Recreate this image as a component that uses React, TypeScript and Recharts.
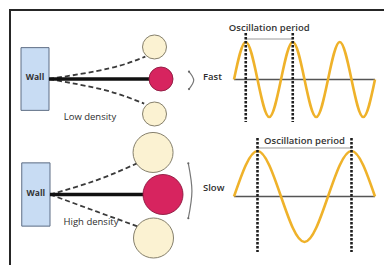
import React from "react";
import {
  ComposedChart,
  LineChart,
  Line,
  Scatter,
  XAxis,
  YAxis,
  ReferenceLine,
  ReferenceArea,
} from "recharts";

// Oscillations, sampled every quarter period (peak / zero / trough)
const fastSteps = [0, 1, 2, 3, 4, 5, 6, 7, 8, 9, 10, 11, 12];
const fastWave = [0, 1, 0, -1, 0, 1, 0, -1, 0, 1, 0, -1, 0];
const slowSteps = [0, 1, 2, 3, 4, 5, 6];
const slowWave = [0, 1, 0, -1, 0, 1, 0];
const periodMarks = [1, 5]; // the two peaks marked with dotted lines

// Pendulums, in units of the rod length (wall face at x = 0)
const lowBalls = [
  { x: 0.942, y: 0.286, kind: "swing" },
  { x: 1, y: 0, kind: "mass" },
  { x: 0.942, y: -0.3125, kind: "swing" },
];
const lowUpperArm = [
  { x: 0, y: 0 },
  { x: 0.54, y: 0.095 },
  { x: 0.86, y: 0.2 },
];
const lowLowerArm = [
  { x: 0, y: 0 },
  { x: 0.5, y: -0.1 },
  { x: 0.85, y: -0.22 },
];
const lowBracket = [
  { x: 1.25, y: 0.065 },
  { x: 1.292, y: -0.012 },
  { x: 1.25, y: -0.09 },
];

const highBalls = [
  { x: 0.912, y: 0.372, kind: "swing" },
  { x: 1, y: 0, kind: "mass" },
  { x: 0.916, y: -0.385, kind: "swing" },
];
const highUpperArm = [
  { x: 0, y: 0 },
  { x: 0.416, y: 0.128 },
  { x: 0.78, y: 0.28 },
];
const highLowerArm = [
  { x: 0, y: 0 },
  { x: 0.416, y: -0.152 },
  { x: 0.78, y: -0.285 },
];
const highBracket = [
  { x: 1.224, y: 0.276 },
  { x: 1.256, y: 0.03 },
  { x: 1.224, y: -0.21 },
];

const rod = [
  { x: 0, y: 0 },
  { x: 1, y: 0 },
];

const WAVE = "#efb22a";
const PINK = "#d7245f";
const CREAM = "#fbf2d2";
const INK = "#2e2e2e";

// small dots only at the two ends of the bracket
const endDot = (p: any) =>
  p.index === 1 ? <g key={p.index} /> : <circle key={p.index} cx={p.cx} cy={p.cy} r={1.1} fill="#666" />;

function Pendulum({ top, height, originX, originY, scale, ballR, balls, upperArm, lowerArm, bracket }: any) {
  const width = 230;
  const xDomain = [-originX / scale, (width - originX) / scale];
  const yDomain = [-(height - originY) / scale, originY / scale];
  const ball = (p: any) => (
    <circle
      cx={p.cx}
      cy={p.cy}
      r={ballR}
      fill={p.payload.kind === "mass" ? PINK : CREAM}
      stroke={p.payload.kind === "mass" ? "#8c1840" : "#77725e"}
      strokeWidth={0.9}
    />
  );
  return (
    <div style={{ position: "absolute", left: 0, top }}>
      <ComposedChart width={width} height={height} margin={{ top: 0, right: 0, bottom: 0, left: 0 }}>
        <XAxis type="number" dataKey="x" domain={xDomain} hide allowDataOverflow />
        <YAxis type="number" dataKey="y" domain={yDomain} hide allowDataOverflow />
        <ReferenceArea
          x1={-0.25}
          x2={0}
          y1={-0.28}
          y2={0.28}
          fill="#c8dcf3"
          fillOpacity={1}
          stroke="#5d6d84"
          strokeWidth={1}
          label={{ value: "Wall", position: "center", fill: "#333", fontSize: 8.5, fontWeight: 700, dy: -2 }}
        />
        <Line data={upperArm} dataKey="y" type="natural" stroke="#3a3a3a" strokeWidth={1.8} strokeDasharray="5 3" dot={false} activeDot={false} isAnimationActive={false} />
        <Line data={lowerArm} dataKey="y" type="natural" stroke="#3a3a3a" strokeWidth={1.8} strokeDasharray="5 3" dot={false} activeDot={false} isAnimationActive={false} />
        <Line data={rod} dataKey="y" stroke="#111" strokeWidth={3.5} dot={false} activeDot={false} isAnimationActive={false} />
        <Line data={bracket} dataKey="y" type="natural" stroke="#777" strokeWidth={1.2} dot={endDot} activeDot={false} isAnimationActive={false} />
        <Scatter data={balls} dataKey="y" shape={ball} isAnimationActive={false} />
      </ComposedChart>
    </div>
  );
}

function Wave({ top, height, margin, steps, values, markTop, markBottom, bracketY, labelOffset }: any) {
  const rows = steps.map((q: number, i: number) => ({ q, v: values[i] }));
  return (
    <div style={{ position: "absolute", left: 224, top }}>
      <LineChart width={161} height={height} data={rows} margin={margin}>
        <XAxis type="number" dataKey="q" domain={[0, steps[steps.length - 1]]} hide />
        <YAxis type="number" domain={[-1, 1]} hide />
        <ReferenceLine y={0} stroke="#555" strokeWidth={1.5} />
        <ReferenceLine
          segment={[
            { x: periodMarks[0], y: bracketY },
            { x: periodMarks[1], y: bracketY },
          ]}
          stroke="#9a9a9a"
          strokeWidth={1}
          ifOverflow="visible"
          label={{ value: "Oscillation period", position: "top", offset: labelOffset, fill: "#333", fontSize: 9.5, fontWeight: 600 }}
        />
        <Line dataKey="v" type="natural" stroke={WAVE} strokeWidth={2.6} dot={false} activeDot={false} isAnimationActive={false} />
        {periodMarks.map((m) => (
          <ReferenceLine
            key={m}
            segment={[
              { x: m, y: markTop },
              { x: m, y: markBottom },
            ]}
            stroke="#1e1e1e"
            strokeWidth={2.6}
            strokeDasharray="2.4 1.6"
            ifOverflow="visible"
          />
        ))}
      </LineChart>
    </div>
  );
}

export default function App() {
  const text = { fill: INK, fontSize: 9.5 } as const;
  return (
    <div
      style={{
        position: "absolute",
        left: 0,
        top: 0,
        width: 384,
        height: 265,
        overflow: "hidden",
        background: "#fff",
        fontFamily: "'Open Sans', sans-serif",
      }}
    >
      <div
        style={{
          position: "absolute",
          left: 9,
          top: 9,
          width: 400,
          height: 300,
          borderTop: "2px solid #262626",
          borderLeft: "2px solid #262626",
        }}
      />
      <Pendulum
        top={0}
        height={130}
        originX={49}
        originY={79}
        scale={112}
        ballR={12}
        balls={lowBalls}
        upperArm={lowUpperArm}
        lowerArm={lowLowerArm}
        bracket={lowBracket}
      />
      <Pendulum
        top={130}
        height={135}
        originX={50}
        originY={64.5}
        scale={113}
        ballR={20}
        balls={highBalls}
        upperArm={highUpperArm}
        lowerArm={highLowerArm}
        bracket={highBracket}
      />
      <Wave
        top={15}
        height={115}
        margin={{ top: 27, right: 10, bottom: 13, left: 10 }}
        steps={fastSteps}
        values={fastWave}
        markTop={1.24}
        markBottom={-1.13}
        bracketY={1.08}
        labelOffset={8}
      />
      <Wave
        top={130}
        height={135}
        margin={{ top: 21, right: 10, bottom: 23, left: 10 }}
        steps={slowSteps}
        values={slowWave}
        markTop={1.286}
        markBottom={-1.22}
        bracketY={1.066}
        labelOffset={4}
      />
      <svg width={384} height={265} style={{ position: "absolute", left: 0, top: 0, pointerEvents: "none" }}>
        <text x={203} y={79.5} {...text} fontWeight={600}>Fast</text>
        <text x={203} y={191} {...text} fontWeight={600}>Slow</text>
        <text x={90} y={119.5} {...text} fontWeight={500} textAnchor="middle">Low density</text>
        <text x={91} y={224.5} {...text} fontWeight={500} textAnchor="middle">High density</text>
      </svg>
    </div>
  );
}
